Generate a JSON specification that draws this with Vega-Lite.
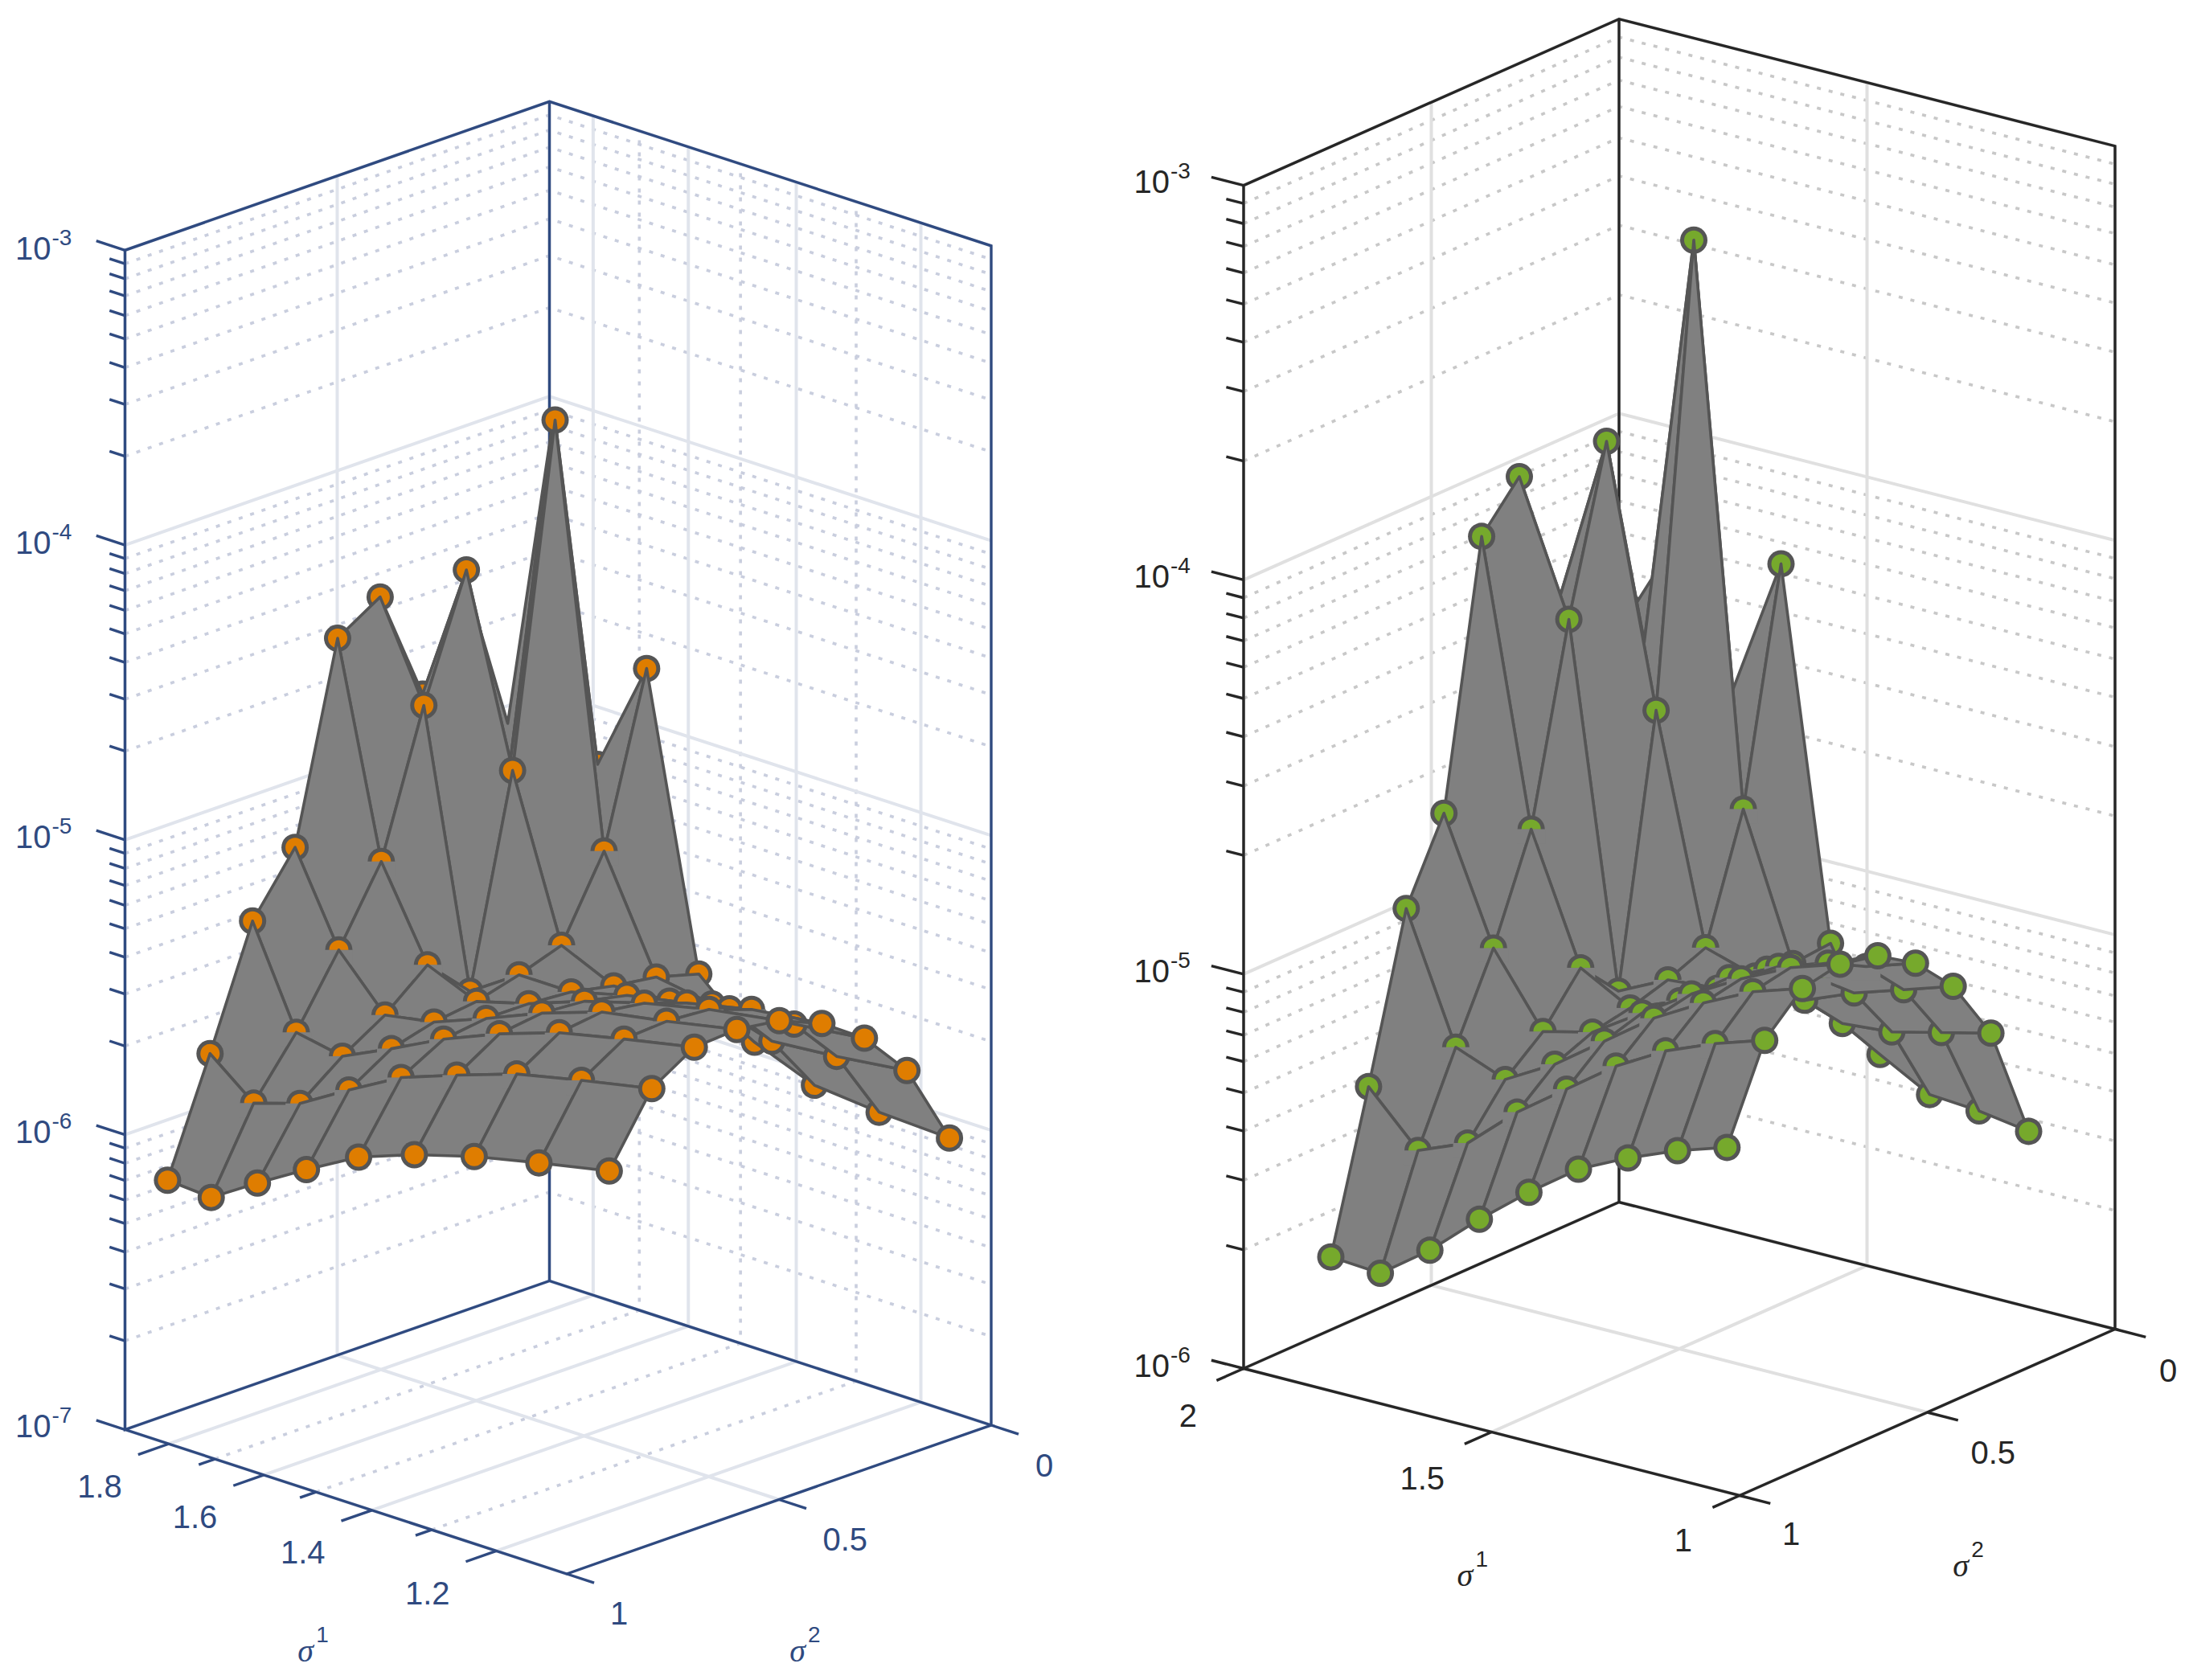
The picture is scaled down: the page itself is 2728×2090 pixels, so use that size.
{"$schema":"https://vega.github.io/schema/vega-lite/v6.json","width":2728,"height":2090,"padding":0,"autosize":{"type":"none"},"background":"white","config":{"view":{"stroke":null}},
"datasets":{
"surface":[
{"p":"A","s1":1.9,"s2":0.1,"lz":-5.06},{"p":"A","s1":1.9,"s2":0.2,"lz":-4.52},{"p":"A","s1":1.9,"s2":0.3,"lz":-4.86},{"p":"A","s1":1.9,"s2":0.4,"lz":-4.48},{"p":"A","s1":1.9,"s2":0.5,"lz":-4.57},{"p":"A","s1":1.9,"s2":0.6,"lz":-5.23},{"p":"A","s1":1.9,"s2":0.7,"lz":-5.43},{"p":"A","s1":1.9,"s2":0.8,"lz":-5.83},{"p":"A","s1":1.9,"s2":0.9,"lz":-6.21},
{"p":"A","s1":1.8,"s2":0.1,"lz":-4.02},{"p":"A","s1":1.8,"s2":0.2,"lz":-5.13},{"p":"A","s1":1.8,"s2":0.3,"lz":-4.39},{"p":"A","s1":1.8,"s2":0.4,"lz":-4.80},{"p":"A","s1":1.8,"s2":0.5,"lz":-5.28},{"p":"A","s1":1.8,"s2":0.6,"lz":-5.53},{"p":"A","s1":1.8,"s2":0.7,"lz":-5.76},{"p":"A","s1":1.8,"s2":0.8,"lz":-5.95},{"p":"A","s1":1.8,"s2":0.9,"lz":-6.22},
{"p":"A","s1":1.7,"s2":0.1,"lz":-5.10},{"p":"A","s1":1.7,"s2":0.2,"lz":-3.88},{"p":"A","s1":1.7,"s2":0.3,"lz":-5.02},{"p":"A","s1":1.7,"s2":0.4,"lz":-5.72},{"p":"A","s1":1.7,"s2":0.5,"lz":-5.58},{"p":"A","s1":1.7,"s2":0.6,"lz":-5.70},{"p":"A","s1":1.7,"s2":0.7,"lz":-5.79},{"p":"A","s1":1.7,"s2":0.8,"lz":-5.90},{"p":"A","s1":1.7,"s2":0.9,"lz":-6.12},
{"p":"A","s1":1.6,"s2":0.1,"lz":-4.72},{"p":"A","s1":1.6,"s2":0.2,"lz":-5.29},{"p":"A","s1":1.6,"s2":0.3,"lz":-5.56},{"p":"A","s1":1.6,"s2":0.4,"lz":-5.61},{"p":"A","s1":1.6,"s2":0.5,"lz":-5.65},{"p":"A","s1":1.6,"s2":0.6,"lz":-5.67},{"p":"A","s1":1.6,"s2":0.7,"lz":-5.71},{"p":"A","s1":1.6,"s2":0.8,"lz":-5.80},{"p":"A","s1":1.6,"s2":0.9,"lz":-6.02},
{"p":"A","s1":1.5,"s2":0.1,"lz":-5.70},{"p":"A","s1":1.5,"s2":0.2,"lz":-5.66},{"p":"A","s1":1.5,"s2":0.3,"lz":-5.64},{"p":"A","s1":1.5,"s2":0.4,"lz":-5.61},{"p":"A","s1":1.5,"s2":0.5,"lz":-5.60},{"p":"A","s1":1.5,"s2":0.6,"lz":-5.60},{"p":"A","s1":1.5,"s2":0.7,"lz":-5.62},{"p":"A","s1":1.5,"s2":0.8,"lz":-5.70},{"p":"A","s1":1.5,"s2":0.9,"lz":-5.92},
{"p":"A","s1":1.4,"s2":0.1,"lz":-5.87},{"p":"A","s1":1.4,"s2":0.2,"lz":-5.69},{"p":"A","s1":1.4,"s2":0.3,"lz":-5.63},{"p":"A","s1":1.4,"s2":0.4,"lz":-5.56},{"p":"A","s1":1.4,"s2":0.5,"lz":-5.53},{"p":"A","s1":1.4,"s2":0.6,"lz":-5.52},{"p":"A","s1":1.4,"s2":0.7,"lz":-5.54},{"p":"A","s1":1.4,"s2":0.8,"lz":-5.63},{"p":"A","s1":1.4,"s2":0.9,"lz":-5.85},
{"p":"A","s1":1.3,"s2":0.1,"lz":-5.95},{"p":"A","s1":1.3,"s2":0.2,"lz":-5.75},{"p":"A","s1":1.3,"s2":0.3,"lz":-5.59},{"p":"A","s1":1.3,"s2":0.4,"lz":-5.52},{"p":"A","s1":1.3,"s2":0.5,"lz":-5.47},{"p":"A","s1":1.3,"s2":0.6,"lz":-5.45},{"p":"A","s1":1.3,"s2":0.7,"lz":-5.47},{"p":"A","s1":1.3,"s2":0.8,"lz":-5.56},{"p":"A","s1":1.3,"s2":0.9,"lz":-5.79},
{"p":"A","s1":1.2,"s2":0.1,"lz":-5.97},{"p":"A","s1":1.2,"s2":0.2,"lz":-5.73},{"p":"A","s1":1.2,"s2":0.3,"lz":-5.57},{"p":"A","s1":1.2,"s2":0.4,"lz":-5.47},{"p":"A","s1":1.2,"s2":0.5,"lz":-5.42},{"p":"A","s1":1.2,"s2":0.6,"lz":-5.41},{"p":"A","s1":1.2,"s2":0.7,"lz":-5.42},{"p":"A","s1":1.2,"s2":0.8,"lz":-5.51},{"p":"A","s1":1.2,"s2":0.9,"lz":-5.74},
{"p":"A","s1":1.1,"s2":0.1,"lz":-5.98},{"p":"A","s1":1.1,"s2":0.2,"lz":-5.70},{"p":"A","s1":1.1,"s2":0.3,"lz":-5.54},{"p":"A","s1":1.1,"s2":0.4,"lz":-5.44},{"p":"A","s1":1.1,"s2":0.5,"lz":-5.38},{"p":"A","s1":1.1,"s2":0.6,"lz":-5.36},{"p":"A","s1":1.1,"s2":0.7,"lz":-5.37},{"p":"A","s1":1.1,"s2":0.8,"lz":-5.46},{"p":"A","s1":1.1,"s2":0.9,"lz":-5.69},
{"p":"B","s1":1.9,"s2":0.1,"lz":-4.42},{"p":"B","s1":1.9,"s2":0.2,"lz":-4.06},{"p":"B","s1":1.9,"s2":0.3,"lz":-4.33},{"p":"B","s1":1.9,"s2":0.4,"lz":-3.96},{"p":"B","s1":1.9,"s2":0.5,"lz":-4.07},{"p":"B","s1":1.9,"s2":0.6,"lz":-4.73},{"p":"B","s1":1.9,"s2":0.7,"lz":-4.93},{"p":"B","s1":1.9,"s2":0.8,"lz":-5.34},{"p":"B","s1":1.9,"s2":0.9,"lz":-5.73},
{"p":"B","s1":1.8,"s2":0.1,"lz":-4.19},{"p":"B","s1":1.8,"s2":0.2,"lz":-4.43},{"p":"B","s1":1.8,"s2":0.3,"lz":-3.88},{"p":"B","s1":1.8,"s2":0.4,"lz":-4.29},{"p":"B","s1":1.8,"s2":0.5,"lz":-4.78},{"p":"B","s1":1.8,"s2":0.6,"lz":-5.04},{"p":"B","s1":1.8,"s2":0.7,"lz":-5.25},{"p":"B","s1":1.8,"s2":0.8,"lz":-5.47},{"p":"B","s1":1.8,"s2":0.9,"lz":-5.74},
{"p":"B","s1":1.7,"s2":0.1,"lz":-4.57},{"p":"B","s1":1.7,"s2":0.2,"lz":-3.38},{"p":"B","s1":1.7,"s2":0.3,"lz":-4.53},{"p":"B","s1":1.7,"s2":0.4,"lz":-5.20},{"p":"B","s1":1.7,"s2":0.5,"lz":-5.10},{"p":"B","s1":1.7,"s2":0.6,"lz":-5.22},{"p":"B","s1":1.7,"s2":0.7,"lz":-5.30},{"p":"B","s1":1.7,"s2":0.8,"lz":-5.42},{"p":"B","s1":1.7,"s2":0.9,"lz":-5.65},
{"p":"B","s1":1.6,"s2":0.1,"lz":-4.21},{"p":"B","s1":1.6,"s2":0.2,"lz":-4.79},{"p":"B","s1":1.6,"s2":0.3,"lz":-5.10},{"p":"B","s1":1.6,"s2":0.4,"lz":-5.14},{"p":"B","s1":1.6,"s2":0.5,"lz":-5.17},{"p":"B","s1":1.6,"s2":0.6,"lz":-5.19},{"p":"B","s1":1.6,"s2":0.7,"lz":-5.23},{"p":"B","s1":1.6,"s2":0.8,"lz":-5.31},{"p":"B","s1":1.6,"s2":0.9,"lz":-5.54},
{"p":"B","s1":1.5,"s2":0.1,"lz":-5.14},{"p":"B","s1":1.5,"s2":0.2,"lz":-5.15},{"p":"B","s1":1.5,"s2":0.3,"lz":-5.14},{"p":"B","s1":1.5,"s2":0.4,"lz":-5.13},{"p":"B","s1":1.5,"s2":0.5,"lz":-5.12},{"p":"B","s1":1.5,"s2":0.6,"lz":-5.11},{"p":"B","s1":1.5,"s2":0.7,"lz":-5.14},{"p":"B","s1":1.5,"s2":0.8,"lz":-5.22},{"p":"B","s1":1.5,"s2":0.9,"lz":-5.44},
{"p":"B","s1":1.4,"s2":0.1,"lz":-5.39},{"p":"B","s1":1.4,"s2":0.2,"lz":-5.27},{"p":"B","s1":1.4,"s2":0.3,"lz":-5.17},{"p":"B","s1":1.4,"s2":0.4,"lz":-5.05},{"p":"B","s1":1.4,"s2":0.5,"lz":-5.03},{"p":"B","s1":1.4,"s2":0.6,"lz":-5.03},{"p":"B","s1":1.4,"s2":0.7,"lz":-5.05},{"p":"B","s1":1.4,"s2":0.8,"lz":-5.13},{"p":"B","s1":1.4,"s2":0.9,"lz":-5.35},
{"p":"B","s1":1.3,"s2":0.1,"lz":-5.46},{"p":"B","s1":1.3,"s2":0.2,"lz":-5.26},{"p":"B","s1":1.3,"s2":0.3,"lz":-5.12},{"p":"B","s1":1.3,"s2":0.4,"lz":-5.04},{"p":"B","s1":1.3,"s2":0.5,"lz":-4.97},{"p":"B","s1":1.3,"s2":0.6,"lz":-4.96},{"p":"B","s1":1.3,"s2":0.7,"lz":-4.98},{"p":"B","s1":1.3,"s2":0.8,"lz":-5.06},{"p":"B","s1":1.3,"s2":0.9,"lz":-5.29},
{"p":"B","s1":1.2,"s2":0.1,"lz":-5.47},{"p":"B","s1":1.2,"s2":0.2,"lz":-5.23},{"p":"B","s1":1.2,"s2":0.3,"lz":-5.08},{"p":"B","s1":1.2,"s2":0.4,"lz":-4.98},{"p":"B","s1":1.2,"s2":0.5,"lz":-4.93},{"p":"B","s1":1.2,"s2":0.6,"lz":-4.90},{"p":"B","s1":1.2,"s2":0.7,"lz":-4.92},{"p":"B","s1":1.2,"s2":0.8,"lz":-5.01},{"p":"B","s1":1.2,"s2":0.9,"lz":-5.24},
{"p":"B","s1":1.1,"s2":0.1,"lz":-5.49},{"p":"B","s1":1.1,"s2":0.2,"lz":-5.20},{"p":"B","s1":1.1,"s2":0.3,"lz":-5.04},{"p":"B","s1":1.1,"s2":0.4,"lz":-4.94},{"p":"B","s1":1.1,"s2":0.5,"lz":-4.88},{"p":"B","s1":1.1,"s2":0.6,"lz":-4.86},{"p":"B","s1":1.1,"s2":0.7,"lz":-4.88},{"p":"B","s1":1.1,"s2":0.8,"lz":-4.97},{"p":"B","s1":1.1,"s2":0.9,"lz":-5.20}
],
"frame":[
{"p":"A","a":"z","v":1e-7,"m":1},{"p":"A","a":"z","v":2e-7},{"p":"A","a":"z","v":3e-7},{"p":"A","a":"z","v":4e-7},{"p":"A","a":"z","v":5e-7},{"p":"A","a":"z","v":6e-7},{"p":"A","a":"z","v":7e-7},{"p":"A","a":"z","v":8e-7},{"p":"A","a":"z","v":9e-7},
{"p":"A","a":"z","v":1e-6,"m":1},{"p":"A","a":"z","v":2e-6},{"p":"A","a":"z","v":3e-6},{"p":"A","a":"z","v":4e-6},{"p":"A","a":"z","v":5e-6},{"p":"A","a":"z","v":6e-6},{"p":"A","a":"z","v":7e-6},{"p":"A","a":"z","v":8e-6},{"p":"A","a":"z","v":9e-6},
{"p":"A","a":"z","v":1e-5,"m":1},{"p":"A","a":"z","v":2e-5},{"p":"A","a":"z","v":3e-5},{"p":"A","a":"z","v":4e-5},{"p":"A","a":"z","v":5e-5},{"p":"A","a":"z","v":6e-5},{"p":"A","a":"z","v":7e-5},{"p":"A","a":"z","v":8e-5},{"p":"A","a":"z","v":9e-5},
{"p":"A","a":"z","v":1e-4,"m":1},{"p":"A","a":"z","v":2e-4},{"p":"A","a":"z","v":3e-4},{"p":"A","a":"z","v":4e-4},{"p":"A","a":"z","v":5e-4},{"p":"A","a":"z","v":6e-4},{"p":"A","a":"z","v":7e-4},{"p":"A","a":"z","v":8e-4},{"p":"A","a":"z","v":9e-4},{"p":"A","a":"z","v":1e-3,"m":1},
{"p":"A","a":"s1","v":1.2,"m":1},{"p":"A","a":"s1","v":1.3},{"p":"A","a":"s1","v":1.4,"m":1},{"p":"A","a":"s1","v":1.5},{"p":"A","a":"s1","v":1.6,"m":1},{"p":"A","a":"s1","v":1.7},{"p":"A","a":"s1","v":1.8,"m":1},
{"p":"A","a":"s2","v":0,"m":1},{"p":"A","a":"s2","v":0.5,"m":1},{"p":"A","a":"s2","v":1,"m":1},
{"p":"B","a":"z","v":1e-6,"m":1},{"p":"B","a":"z","v":2e-6},{"p":"B","a":"z","v":3e-6},{"p":"B","a":"z","v":4e-6},{"p":"B","a":"z","v":5e-6},{"p":"B","a":"z","v":6e-6},{"p":"B","a":"z","v":7e-6},{"p":"B","a":"z","v":8e-6},{"p":"B","a":"z","v":9e-6},
{"p":"B","a":"z","v":1e-5,"m":1},{"p":"B","a":"z","v":2e-5},{"p":"B","a":"z","v":3e-5},{"p":"B","a":"z","v":4e-5},{"p":"B","a":"z","v":5e-5},{"p":"B","a":"z","v":6e-5},{"p":"B","a":"z","v":7e-5},{"p":"B","a":"z","v":8e-5},{"p":"B","a":"z","v":9e-5},
{"p":"B","a":"z","v":1e-4,"m":1},{"p":"B","a":"z","v":2e-4},{"p":"B","a":"z","v":3e-4},{"p":"B","a":"z","v":4e-4},{"p":"B","a":"z","v":5e-4},{"p":"B","a":"z","v":6e-4},{"p":"B","a":"z","v":7e-4},{"p":"B","a":"z","v":8e-4},{"p":"B","a":"z","v":9e-4},{"p":"B","a":"z","v":1e-3,"m":1},
{"p":"B","a":"s1","v":1,"m":1},{"p":"B","a":"s1","v":1.5,"m":1},{"p":"B","a":"s1","v":2,"m":1},
{"p":"B","a":"s2","v":0,"m":1},{"p":"B","a":"s2","v":0.5,"m":1},{"p":"B","a":"s2","v":1,"m":1}
],
"box":[
{"p":"A","g":1,"c":0,"s1":1.9,"s2":1,"lz":-7},{"p":"A","g":1,"c":1,"s1":1.1,"s2":1,"lz":-7},{"p":"A","g":1,"c":2,"s1":1.1,"s2":0,"lz":-7},{"p":"A","g":1,"c":3,"s1":1.9,"s2":0,"lz":-7},{"p":"A","g":1,"c":4,"s1":1.9,"s2":1,"lz":-7},{"p":"A","g":1,"c":5,"s1":1.9,"s2":1,"lz":-3},{"p":"A","g":1,"c":6,"s1":1.9,"s2":0,"lz":-3},{"p":"A","g":1,"c":7,"s1":1.1,"s2":0,"lz":-3},{"p":"A","g":1,"c":8,"s1":1.1,"s2":0,"lz":-7},
{"p":"A","g":2,"c":0,"s1":1.9,"s2":0,"lz":-7},{"p":"A","g":2,"c":1,"s1":1.9,"s2":0,"lz":-3},
{"p":"B","g":1,"c":0,"s1":2,"s2":1,"lz":-6},{"p":"B","g":1,"c":1,"s1":1,"s2":1,"lz":-6},{"p":"B","g":1,"c":2,"s1":1,"s2":0,"lz":-6},{"p":"B","g":1,"c":3,"s1":2,"s2":0,"lz":-6},{"p":"B","g":1,"c":4,"s1":2,"s2":1,"lz":-6},{"p":"B","g":1,"c":5,"s1":2,"s2":1,"lz":-3},{"p":"B","g":1,"c":6,"s1":2,"s2":0,"lz":-3},{"p":"B","g":1,"c":7,"s1":1,"s2":0,"lz":-3},{"p":"B","g":1,"c":8,"s1":1,"s2":0,"lz":-6},
{"p":"B","g":2,"c":0,"s1":2,"s2":0,"lz":-6},{"p":"B","g":2,"c":1,"s1":2,"s2":0,"lz":-3}
],
"labels":[
{"p":"A","r":"s1","s1":1.8,"s2":1,"lz":-7,"text":"1.8"},{"p":"A","r":"s1","s1":1.6,"s2":1,"lz":-7,"text":"1.6"},{"p":"A","r":"s1","s1":1.4,"s2":1,"lz":-7,"text":"1.4"},{"p":"A","r":"s1","s1":1.2,"s2":1,"lz":-7,"text":"1.2"},
{"p":"A","r":"s2","s1":1.1,"s2":1,"lz":-7,"text":"1"},{"p":"A","r":"s2","s1":1.1,"s2":0.5,"lz":-7,"text":"0.5"},{"p":"A","r":"s2","s1":1.1,"s2":0,"lz":-7,"text":"0"},
{"p":"A","r":"z","s1":1.9,"s2":1,"lz":-7,"text":"10"},{"p":"A","r":"z","s1":1.9,"s2":1,"lz":-6,"text":"10"},{"p":"A","r":"z","s1":1.9,"s2":1,"lz":-5,"text":"10"},{"p":"A","r":"z","s1":1.9,"s2":1,"lz":-4,"text":"10"},{"p":"A","r":"z","s1":1.9,"s2":1,"lz":-3,"text":"10"},
{"p":"A","r":"e","s1":1.9,"s2":1,"lz":-7,"text":"-7"},{"p":"A","r":"e","s1":1.9,"s2":1,"lz":-6,"text":"-6"},{"p":"A","r":"e","s1":1.9,"s2":1,"lz":-5,"text":"-5"},{"p":"A","r":"e","s1":1.9,"s2":1,"lz":-4,"text":"-4"},{"p":"A","r":"e","s1":1.9,"s2":1,"lz":-3,"text":"-3"},
{"p":"A","r":"t","s1":1.121,"s2":1.578,"lz":-7,"text":"σ"},{"p":"A","r":"u","s1":1.121,"s2":1.578,"lz":-7,"text":"1"},
{"p":"A","r":"t","s1":0.819,"s2":1.018,"lz":-7,"text":"σ"},{"p":"A","r":"u","s1":0.819,"s2":1.018,"lz":-7,"text":"2"},
{"p":"B","r":"s1","s1":2,"s2":1,"lz":-6,"text":"2"},{"p":"B","r":"s1","s1":1.5,"s2":1,"lz":-6,"text":"1.5"},{"p":"B","r":"s1","s1":1,"s2":1,"lz":-6,"text":"1"},
{"p":"B","r":"s2","s1":1,"s2":1,"lz":-6,"text":"1"},{"p":"B","r":"s2","s1":1,"s2":0.5,"lz":-6,"text":"0.5"},{"p":"B","r":"s2","s1":1,"s2":0,"lz":-6,"text":"0"},
{"p":"B","r":"z","s1":2,"s2":1,"lz":-6,"text":"10"},{"p":"B","r":"z","s1":2,"s2":1,"lz":-5,"text":"10"},{"p":"B","r":"z","s1":2,"s2":1,"lz":-4,"text":"10"},{"p":"B","r":"z","s1":2,"s2":1,"lz":-3,"text":"10"},
{"p":"B","r":"e","s1":2,"s2":1,"lz":-6,"text":"-6"},{"p":"B","r":"e","s1":2,"s2":1,"lz":-5,"text":"-5"},{"p":"B","r":"e","s1":2,"s2":1,"lz":-4,"text":"-4"},{"p":"B","r":"e","s1":2,"s2":1,"lz":-3,"text":"-3"},
{"p":"B","r":"t","s1":1.1006,"s2":1.594,"lz":-6,"text":"σ"},{"p":"B","r":"u","s1":1.1006,"s2":1.594,"lz":-6,"text":"1"},
{"p":"B","r":"t","s1":0.496,"s2":1.073,"lz":-6,"text":"σ"},{"p":"B","r":"u","s1":0.496,"s2":1.073,"lz":-6,"text":"2"}
]
},
"encoding":{
"x":{"field":"px","type":"quantitative","scale":{"domain":[0,2728],"nice":false,"zero":false},"axis":null},
"y":{"field":"py","type":"quantitative","scale":{"domain":[2090,0],"nice":false,"zero":false},"axis":null}
},
"layer":[
{"data":{"name":"frame"},
"transform":[
{"calculate":"datum.p=='A'?1.1:1","as":"sn"},{"calculate":"datum.p=='A'?1.9:2","as":"sx"},{"calculate":"datum.p=='A'?-7:-6","as":"zn"},
{"calculate":"datum.a=='z'?log(datum.v)/LN10:datum.v","as":"l"},
{"calculate":"datum.a=='z'?[{s1:datum.sx,s2:1,lz:datum.l,c:0},{s1:datum.sx,s2:0,lz:datum.l,c:1},{s1:datum.sn,s2:0,lz:datum.l,c:2}]:datum.a=='s1'?[{s1:datum.l,s2:1,lz:datum.zn,c:0},{s1:datum.l,s2:0,lz:datum.zn,c:1},{s1:datum.l,s2:0,lz:-3,c:2}]:[{s1:datum.sn,s2:datum.l,lz:datum.zn,c:0},{s1:datum.sx,s2:datum.l,lz:datum.zn,c:1},{s1:datum.sx,s2:datum.l,lz:-3,c:2}]","as":"pts"},
{"flatten":["pts"]},
{"calculate":"datum.pts.s1","as":"s1"},{"calculate":"datum.pts.s2","as":"s2"},{"calculate":"datum.pts.lz","as":"lz"},{"calculate":"datum.pts.c","as":"c"},
{"calculate":"datum.p+datum.a+datum.v","as":"g"},
{"calculate":"datum.p=='A'?705-549.5*(log(datum.s1)/LN10-0.04139)/0.23736+528*(1-datum.s2):2164-617*(datum.s1-1)+467*(1-datum.s2)","as":"px"},
{"calculate":"datum.p=='A'?1958-179.5*(log(datum.s1)/LN10-0.04139)/0.23736-185*(1-datum.s2)-366.8*(datum.lz+7):1860.5-158*(datum.s1-1)-207*(1-datum.s2)-490.6*(datum.lz+6)","as":"py"},
{"calculate":"datum.p=='A'?'#c9cede':'#c8c8c8'","as":"col"},
{"filter":"datum.m!=1"}
],
"mark":{"type":"line","strokeWidth":3.6,"strokeDash":[5,10],"point":false},
"encoding":{"detail":{"field":"g"},"order":{"field":"c","type":"quantitative"},"stroke":{"field":"col","type":"nominal","scale":null}}
},
{"data":{"name":"frame"},
"transform":[
{"calculate":"datum.p=='A'?1.1:1","as":"sn"},{"calculate":"datum.p=='A'?1.9:2","as":"sx"},{"calculate":"datum.p=='A'?-7:-6","as":"zn"},
{"calculate":"datum.a=='z'?log(datum.v)/LN10:datum.v","as":"l"},
{"calculate":"datum.a=='z'?[{s1:datum.sx,s2:1,lz:datum.l,c:0},{s1:datum.sx,s2:0,lz:datum.l,c:1},{s1:datum.sn,s2:0,lz:datum.l,c:2}]:datum.a=='s1'?[{s1:datum.l,s2:1,lz:datum.zn,c:0},{s1:datum.l,s2:0,lz:datum.zn,c:1},{s1:datum.l,s2:0,lz:-3,c:2}]:[{s1:datum.sn,s2:datum.l,lz:datum.zn,c:0},{s1:datum.sx,s2:datum.l,lz:datum.zn,c:1},{s1:datum.sx,s2:datum.l,lz:-3,c:2}]","as":"pts"},
{"flatten":["pts"]},
{"calculate":"datum.pts.s1","as":"s1"},{"calculate":"datum.pts.s2","as":"s2"},{"calculate":"datum.pts.lz","as":"lz"},{"calculate":"datum.pts.c","as":"c"},
{"calculate":"datum.p+datum.a+datum.v","as":"g"},
{"calculate":"datum.p=='A'?705-549.5*(log(datum.s1)/LN10-0.04139)/0.23736+528*(1-datum.s2):2164-617*(datum.s1-1)+467*(1-datum.s2)","as":"px"},
{"calculate":"datum.p=='A'?1958-179.5*(log(datum.s1)/LN10-0.04139)/0.23736-185*(1-datum.s2)-366.8*(datum.lz+7):1860.5-158*(datum.s1-1)-207*(1-datum.s2)-490.6*(datum.lz+6)","as":"py"},
{"calculate":"datum.p=='A'?'#e0e4ec':'#e0e0e0'","as":"col"},
{"filter":"datum.m==1"}
],
"mark":{"type":"line","strokeWidth":4,"point":false},
"encoding":{"detail":{"field":"g"},"order":{"field":"c","type":"quantitative"},"stroke":{"field":"col","type":"nominal","scale":null}}
},
{"data":{"name":"frame"},
"transform":[
{"calculate":"datum.p=='A'?1.1:1","as":"sn"},{"calculate":"datum.p=='A'?1.9:2","as":"sx"},{"calculate":"datum.p=='A'?-7:-6","as":"zn"},
{"calculate":"datum.a=='z'?log(datum.v)/LN10:datum.v","as":"l"},
{"calculate":"datum.a=='z'?(datum.m==1?0.065:0.035):datum.a=='s2'?-0.062:0","as":"tu"},
{"calculate":"datum.a=='s1'?(datum.m==1?-0.072:-0.038):0","as":"tv"},
{"calculate":"datum.a=='z'?[{s1:datum.sx,s2:1,lz:datum.l,c:0,du:0,dv:0},{s1:datum.sx,s2:1,lz:datum.l,c:1,du:datum.tu,dv:0}]:datum.a=='s1'?[{s1:datum.l,s2:1,lz:datum.zn,c:0,du:0,dv:0},{s1:datum.l,s2:1,lz:datum.zn,c:1,du:0,dv:datum.tv}]:[{s1:datum.sn,s2:datum.l,lz:datum.zn,c:0,du:0,dv:0},{s1:datum.sn,s2:datum.l,lz:datum.zn,c:1,du:datum.tu,dv:0}]","as":"pts"},
{"flatten":["pts"]},
{"calculate":"datum.pts.s1","as":"s1"},{"calculate":"datum.pts.s2","as":"s2"},{"calculate":"datum.pts.lz","as":"lz"},{"calculate":"datum.pts.c","as":"c"},{"calculate":"datum.pts.du","as":"du"},{"calculate":"datum.pts.dv","as":"dv"},
{"calculate":"datum.p+datum.a+datum.v","as":"g"},
{"calculate":"datum.p=='A'?705-549.5*((log(datum.s1)/LN10-0.04139)/0.23736+datum.du)+528*(1-datum.s2+datum.dv):2164-617*(datum.s1-1+datum.du)+467*(1-datum.s2+datum.dv)","as":"px"},
{"calculate":"datum.p=='A'?1958-179.5*((log(datum.s1)/LN10-0.04139)/0.23736+datum.du)-185*(1-datum.s2+datum.dv)-366.8*(datum.lz+7):1860.5-158*(datum.s1-1+datum.du)-207*(1-datum.s2+datum.dv)-490.6*(datum.lz+6)","as":"py"},
{"calculate":"datum.p=='A'?'#2f4a80':'#262626'","as":"col"}
],
"mark":{"type":"line","strokeWidth":3.4,"point":false},
"encoding":{"detail":{"field":"g"},"order":{"field":"c","type":"quantitative"},"stroke":{"field":"col","type":"nominal","scale":null}}
},
{"data":{"name":"box"},
"transform":[
{"calculate":"datum.p=='A'?705-549.5*(log(datum.s1)/LN10-0.04139)/0.23736+528*(1-datum.s2):2164-617*(datum.s1-1)+467*(1-datum.s2)","as":"px"},
{"calculate":"datum.p=='A'?1958-179.5*(log(datum.s1)/LN10-0.04139)/0.23736-185*(1-datum.s2)-366.8*(datum.lz+7):1860.5-158*(datum.s1-1)-207*(1-datum.s2)-490.6*(datum.lz+6)","as":"py"},
{"calculate":"datum.p=='A'?'#2f4a80':'#262626'","as":"col"},
{"calculate":"datum.p+datum.g","as":"gid"}
],
"mark":{"type":"line","strokeWidth":3.4,"point":false},
"encoding":{"detail":{"field":"gid"},"order":{"field":"c","type":"quantitative"},"stroke":{"field":"col","type":"nominal","scale":null}}
},
{"data":{"name":"surface"},
"transform":[
{"calculate":"round((1.9-datum.s1)*10)","as":"i"},
{"calculate":"round((1-datum.s2)*10)","as":"k"},
{"calculate":"indexof(['A09','A08','A19','B08','B18','B29'],datum.p+datum.i+datum.k)<0","as":"mk"},
{"calculate":"datum.i>=1&&datum.i<=7&&datum.k>=2&&(datum.k<=6||(datum.k==7&&datum.i<=3)||(datum.k==8&&datum.i==3))&&datum.lz<(datum.p=='A'?-5.2:-4.7)","as":"cv"},
{"calculate":"[{g:'r',t:'r',c:0,ok:datum.mk},{g:'r',t:'r',c:1,ok:datum.mk},{g:'d',t:'d',c:0,ok:datum.mk},{g:'d',t:'d',c:1,ok:datum.mk},{g:'h',t:'h',c:0,dx:-18,dy:0,ok:datum.cv},{g:'h',t:'h',c:1,dx:18,dy:0,ok:datum.cv},{g:'h',t:'h',c:2,dx:18,dy:18,ok:datum.cv},{g:'h',t:'h',c:3,dx:-18,dy:18,ok:datum.cv},{g:'f'+datum.i+'_'+(datum.k-1),t:'f',c:3,ok:datum.k>=2&&datum.i<=7},{g:'f'+datum.i+'_'+datum.k,t:'f',c:0,ok:datum.k<=8&&datum.i<=7},{g:'f'+datum.i+'_'+datum.k,t:'f',c:4,ok:datum.k<=8&&datum.i<=7},{g:'f'+(datum.i-1)+'_'+datum.k,t:'f',c:1,ok:datum.i>=1&&datum.k<=8},{g:'f'+(datum.i-1)+'_'+(datum.k-1),t:'f',c:2,ok:datum.i>=1&&datum.k>=2}]","as":"e"},
{"flatten":["e"]},
{"filter":"datum.e.ok"},
{"calculate":"datum.e.t=='f'?datum.p+datum.e.g:datum.p+datum.e.g+datum.i+'_'+datum.k","as":"gid"},
{"calculate":"datum.e.c","as":"c"},
{"calculate":"(datum.p=='A'?705-549.5*(log(datum.s1)/LN10-0.04139)/0.23736+529*(1-datum.s2):2163-616*(datum.s1-1)+469*(1-datum.s2))+(datum.e.dx||0)","as":"px"},
{"calculate":"(datum.p=='A'?1955-179*(log(datum.s1)/LN10-0.04139)/0.23736-184*(1-datum.s2)-366.25*(datum.lz+7):1856-155*(datum.s1-1)-203*(1-datum.s2)-491*(datum.lz+6))+(datum.e.dy||0)","as":"py"},
{"calculate":"datum.e.t=='d'?(datum.p=='A'?'#df7d00':'#76a92c'):datum.e.t=='h'?'#808080':'#555555'","as":"col"},
{"calculate":"datum.e.t=='r'?34:datum.e.t=='d'?24:datum.e.t=='h'?0.1:3.6","as":"sw"}
],
"mark":{"type":"line","fill":"#808080","strokeCap":"round","strokeJoin":"round","point":false},
"encoding":{"detail":{"field":"gid"},"order":{"field":"c","type":"quantitative"},"stroke":{"field":"col","type":"nominal","scale":null},"strokeWidth":{"field":"sw","type":"quantitative","scale":null}}
},
{"data":{"name":"labels"},
"transform":[
{"filter":"datum.r=='s1'||datum.r=='z'"},
{"calculate":"(datum.p=='A'?705-549.5*(log(datum.s1)/LN10-0.04139)/0.23736+529*(1-datum.s2):2163-616*(datum.s1-1)+469*(1-datum.s2))+(datum.r=='s1'?-58:-92)","as":"px"},
{"calculate":"(datum.p=='A'?1955-179*(log(datum.s1)/LN10-0.04139)/0.23736-184*(1-datum.s2)-366.25*(datum.lz+7):1856-155*(datum.s1-1)-203*(1-datum.s2)-491*(datum.lz+6))+(datum.r=='s1'?(datum.p=='A'?57:62):0)","as":"py"},
{"calculate":"datum.p=='A'?'#2f4a80':'#262626'","as":"col"}
],
"mark":{"type":"text","align":"right","baseline":"middle","font":"Liberation Sans","fontSize":40},
"encoding":{"text":{"field":"text"},"color":{"field":"col","type":"nominal","scale":null}}
},
{"data":{"name":"labels"},
"transform":[
{"filter":"datum.r=='s2'"},
{"calculate":"(datum.p=='A'?705-549.5*(log(datum.s1)/LN10-0.04139)/0.23736+529*(1-datum.s2):2163-616*(datum.s1-1)+469*(1-datum.s2))+54","as":"px"},
{"calculate":"(datum.p=='A'?1955-179*(log(datum.s1)/LN10-0.04139)/0.23736-184*(1-datum.s2)-366.25*(datum.lz+7):1856-155*(datum.s1-1)-203*(1-datum.s2)-491*(datum.lz+6))+54","as":"py"},
{"calculate":"datum.p=='A'?'#2f4a80':'#262626'","as":"col"}
],
"mark":{"type":"text","align":"left","baseline":"middle","font":"Liberation Sans","fontSize":40},
"encoding":{"text":{"field":"text"},"color":{"field":"col","type":"nominal","scale":null}}
},
{"data":{"name":"labels"},
"transform":[
{"filter":"datum.r=='e'||datum.r=='u'"},
{"calculate":"(datum.p=='A'?705-549.5*(log(datum.s1)/LN10-0.04139)/0.23736+529*(1-datum.s2):2163-616*(datum.s1-1)+469*(1-datum.s2))+(datum.r=='e'?-91:13)","as":"px"},
{"calculate":"(datum.p=='A'?1955-179*(log(datum.s1)/LN10-0.04139)/0.23736-184*(1-datum.s2)-366.25*(datum.lz+7):1856-155*(datum.s1-1)-203*(1-datum.s2)-491*(datum.lz+6))+(datum.r=='e'?-14:-20)","as":"py"},
{"calculate":"datum.p=='A'?'#2f4a80':'#262626'","as":"col"}
],
"mark":{"type":"text","align":"left","baseline":"middle","font":"Liberation Sans","fontSize":28},
"encoding":{"text":{"field":"text"},"color":{"field":"col","type":"nominal","scale":null}}
},
{"data":{"name":"labels"},
"transform":[
{"filter":"datum.r=='t'"},
{"calculate":"datum.p=='A'?705-549.5*(log(datum.s1)/LN10-0.04139)/0.23736+529*(1-datum.s2):2163-616*(datum.s1-1)+469*(1-datum.s2)","as":"px"},
{"calculate":"datum.p=='A'?1955-179*(log(datum.s1)/LN10-0.04139)/0.23736-184*(1-datum.s2)-366.25*(datum.lz+7):1856-155*(datum.s1-1)-203*(1-datum.s2)-491*(datum.lz+6)","as":"py"},
{"calculate":"datum.p=='A'?'#2f4a80':'#262626'","as":"col"}
],
"mark":{"type":"text","align":"center","baseline":"middle","font":"Liberation Serif","fontStyle":"italic","fontSize":40},
"encoding":{"text":{"field":"text"},"color":{"field":"col","type":"nominal","scale":null}}
}
]}
